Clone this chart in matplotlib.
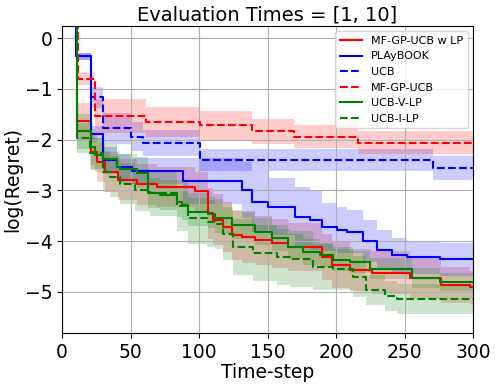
import numpy as np
import matplotlib as mpl
mpl.use("agg")
import matplotlib.pyplot as plt


# step curves: breakpoints, mean, spread
LP_X = [0, 11, 21.5, 25.5, 31.4, 41, 54.7, 69.3, 97.1, 106.4, 110.2, 117.5, 124.1, 131.4,
        140.9, 153.3, 165, 189.8, 197.1, 210.2, 226.3, 254, 276.6, 297.8, 300]
LP_Y = [2.0, -1.64, -2.24, -2.45, -2.64, -2.79, -2.88, -2.93, -3.02, -3.45, -3.58, -3.72, -3.88,
        -3.92, -3.98, -4.04, -4.11, -4.31, -4.47, -4.57, -4.62, -4.73, -4.86, -4.91, -4.91]
LP_SD = [0.3, 0.36, 0.36, 0.38, 0.4, 0.4, 0.4, 0.4, 0.38, 0.5, 0.5, 0.5, 0.5, 0.5, 0.48, 0.48,
         0.47, 0.45, 0.45, 0.42, 0.42, 0.4, 0.35, 0.33, 0.33]

PLAYBOOK_X = [0, 10, 21, 30, 40, 51, 88, 131, 139, 150, 170, 181, 190, 201, 208, 220, 230,
              241, 252, 276, 300]
PLAYBOOK_Y = [2.0, -0.36, -1.89, -2.40, -2.53, -2.62, -2.81, -3.00, -3.22, -3.32, -3.52, -3.58,
              -3.72, -3.78, -3.81, -3.99, -4.17, -4.27, -4.32, -4.36, -4.36]
PLAYBOOK_SD = [0.3, 0.07, 0.15, 0.25, 0.25, 0.25, 0.45, 0.55, 0.6, 0.56, 0.59, 0.59, 0.47, 0.45,
               0.42, 0.41, 0.39, 0.33, 0.33, 0.32, 0.32]

UCB_X = [0, 10, 21, 30, 50, 59, 101, 271, 300]
UCB_Y = [2.0, -0.36, -1.17, -1.78, -1.94, -2.07, -2.40, -2.56, -2.56]
UCB_SD = [0.3, 0.07, 0.21, 0.3, 0.28, 0.25, 0.22, 0.23, 0.23]

MFGP_X = [0, 12, 24, 61, 101, 139, 169, 216, 300]
MFGP_Y = [2.0, -0.80, -1.53, -1.65, -1.72, -1.84, -1.94, -2.06, -2.06]
MFGP_SD = [0.3, 0.12, 0.33, 0.3, 0.28, 0.25, 0.23, 0.22, 0.22]

UCBV_X = [0, 11, 21, 24, 30, 40, 42, 55, 63, 71.5, 84, 87.6, 92, 106.6, 111.7, 124.1, 140.9,
          153.3, 165, 175.9, 188.3, 197.8, 210.2, 224.8, 255.5, 275.9, 300]
UCBV_Y = [2.0, -1.84, -2.14, -2.30, -2.38, -2.53, -2.58, -2.65, -3.05, -3.09, -3.22, -3.29,
          -3.42, -3.47, -3.55, -3.68, -3.81, -3.94, -4.11, -4.21, -4.27, -4.37, -4.41, -4.54,
          -4.73, -4.80, -4.80]
UCBV_SD = [0.3, 0.35, 0.35, 0.33, 0.3, 0.3, 0.3, 0.3, 0.3, 0.3, 0.3, 0.3, 0.28, 0.28, 0.28,
           0.27, 0.27, 0.26, 0.25, 0.25, 0.24, 0.22, 0.22, 0.2, 0.2, 0.18, 0.18]

UCBI_X = [0, 11, 20.4, 29.9, 35, 42.3, 53.3, 64.2, 83.9, 92, 105.8, 111.7, 117.5, 124.8, 139.4,
          156.9, 166.4, 183.2, 197.8, 212.4, 221.9, 235.8, 244.5, 300]
UCBI_Y = [2.0, -1.97, -2.27, -2.63, -2.73, -2.87, -2.99, -3.06, -3.30, -3.55, -3.62, -3.66,
          -3.85, -4.11, -4.24, -4.31, -4.35, -4.51, -4.54, -4.70, -4.96, -5.08, -5.14, -5.14]
UCBI_SD = [0.3, 0.3, 0.3, 0.4, 0.4, 0.4, 0.42, 0.45, 0.5, 0.5, 0.5, 0.5, 0.52, 0.55, 0.55,
           0.55, 0.55, 0.45, 0.42, 0.4, 0.3, 0.3, 0.3, 0.3]

SERIES = [
    ("MF-GP-UCB w LP", LP_X, LP_Y, LP_SD, "red", "-"),
    ("PLAyBOOK", PLAYBOOK_X, PLAYBOOK_Y, PLAYBOOK_SD, "blue", "-"),
    ("UCB", UCB_X, UCB_Y, UCB_SD, "blue", "--"),
    ("MF-GP-UCB", MFGP_X, MFGP_Y, MFGP_SD, "red", "--"),
    ("UCB-V-LP", UCBV_X, UCBV_Y, UCBV_SD, "green", "-"),
    ("UCB-I-LP", UCBI_X, UCBI_Y, UCBI_SD, "green", "--"),
]


fig = plt.figure(figsize=(4.98, 3.86), dpi=100)
ax = fig.add_axes([0.1245, 0.137, 0.8255, 0.796])

for label, xs, ys, sd, color, ls in SERIES:
    x = np.asarray(xs, dtype=float)
    y = np.asarray(ys, dtype=float)
    s = np.asarray(sd, dtype=float)
    ax.fill_between(x, y - s, y + s, step="post", color=color, alpha=0.2, linewidth=0)
    ax.plot(x, y, drawstyle="steps-post", color=color, linestyle=ls, linewidth=1.5, label=label)

ax.set_xlim(0, 300)
ax.set_ylim(-5.81, 0.24)
ax.set_xticks([0, 50, 100, 150, 200, 250, 300])
ax.set_yticks([0, -1, -2, -3, -4, -5])
ax.grid(True, color="#b0b0b0", linewidth=0.8)
ax.tick_params(labelsize=13.5)
ax.set_xlabel("Time-step", fontsize=13.5, labelpad=1)
ax.set_ylabel("log(Regret)", fontsize=13.5, labelpad=2)
ax.set_title("Evaluation Times = [1, 10]", fontsize=14, pad=4)
ax.legend(loc="upper right", fontsize=8, frameon=True)

fig.savefig("out.png", dpi=100)
